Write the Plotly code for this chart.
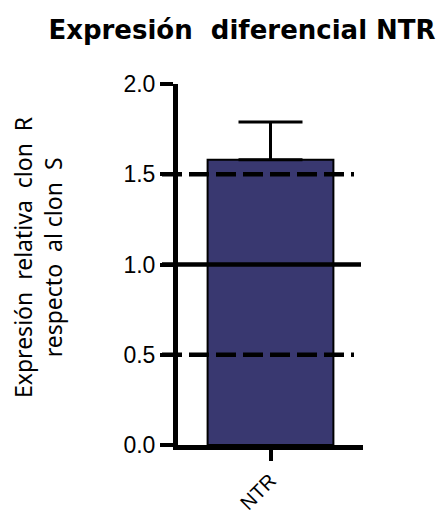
import plotly.graph_objects as go

categories = ["NTR"]
values = [1.58]
err_plus = [0.21]
err_minus = [0.0]
ref_solid = [1.0]
ref_dashed = [0.5, 1.5]
y_ticks = [0.0, 0.5, 1.0, 1.5, 2.0]
y_ticklabels = ["0.0", "0.5", "1.0", "1.5", "2.0"]

L, R, T, B = 178, 80, 84, 65
PW = 443 - L - R

fig = go.Figure()
fig.add_trace(go.Bar(
    x=categories, y=values, width=0.68,
    marker=dict(color="#393870", line=dict(color="black", width=2)),
    error_y=dict(type="data", symmetric=False, array=err_plus, arrayminus=err_minus,
                 color="black", thickness=3, width=32),
))

shapes = []
for v in ref_solid:
    shapes.append(dict(type="line", xref="paper", yref="y", x0=(162 - L) / PW, x1=(361 - L) / PW,
                       y0=v, y1=v, line=dict(color="black", width=4.5), layer="above"))
for v in ref_dashed:
    shapes.append(dict(type="line", xref="paper", yref="y", x0=(162 - L) / PW, x1=(354 - L) / PW,
                       y0=v, y1=v, line=dict(color="black", width=4.5, dash="20px,7px"),
                       layer="above"))

fig.update_layout(
    width=443, height=510,
    margin=dict(l=L, r=R, t=T, b=B, autoexpand=False),
    plot_bgcolor="white", paper_bgcolor="white",
    showlegend=False,
    shapes=shapes,
    title=dict(text="<b>Expresión  diferencial NTR</b>", x=242 / 443, xanchor="center",
               xref="container", y=1 - 30 / 510, yref="container", yanchor="middle",
               font=dict(family="DejaVu Sans", size=26, color="black"), automargin=False),
    annotations=[dict(text="Expresión  relativa  clon  R<br>respecto  al clon  S",
                      textangle=-90, xref="paper", yref="paper", x=(38 - L) / PW,
                      y=(510 - B - 258) / (510 - T - B),
                      xanchor="center", yanchor="middle", showarrow=False,
                      font=dict(family="Noto Sans", size=23, color="black"))],
    xaxis=dict(range=[-0.5, 0.5], showline=True, linecolor="black", linewidth=5,
               ticks="outside", ticklen=11, tickwidth=4, tickcolor="black",
               tickangle=-45, tickfont=dict(family="Liberation Sans", size=20, color="black"),
               showgrid=False, zeroline=False, automargin=False),
    yaxis=dict(range=[0, 2.0], tickvals=y_ticks, ticktext=y_ticklabels, showline=True,
               linecolor="black", linewidth=5, ticks="outside", ticklen=13, tickwidth=4,
               tickcolor="black", tickfont=dict(family="Liberation Sans", size=23, color="black"),
               showgrid=False, zeroline=False, automargin=False),
)

fig.write_html("out.html", config={"displayModeBar": False},
               post_script="document.body.style.margin='0';")
